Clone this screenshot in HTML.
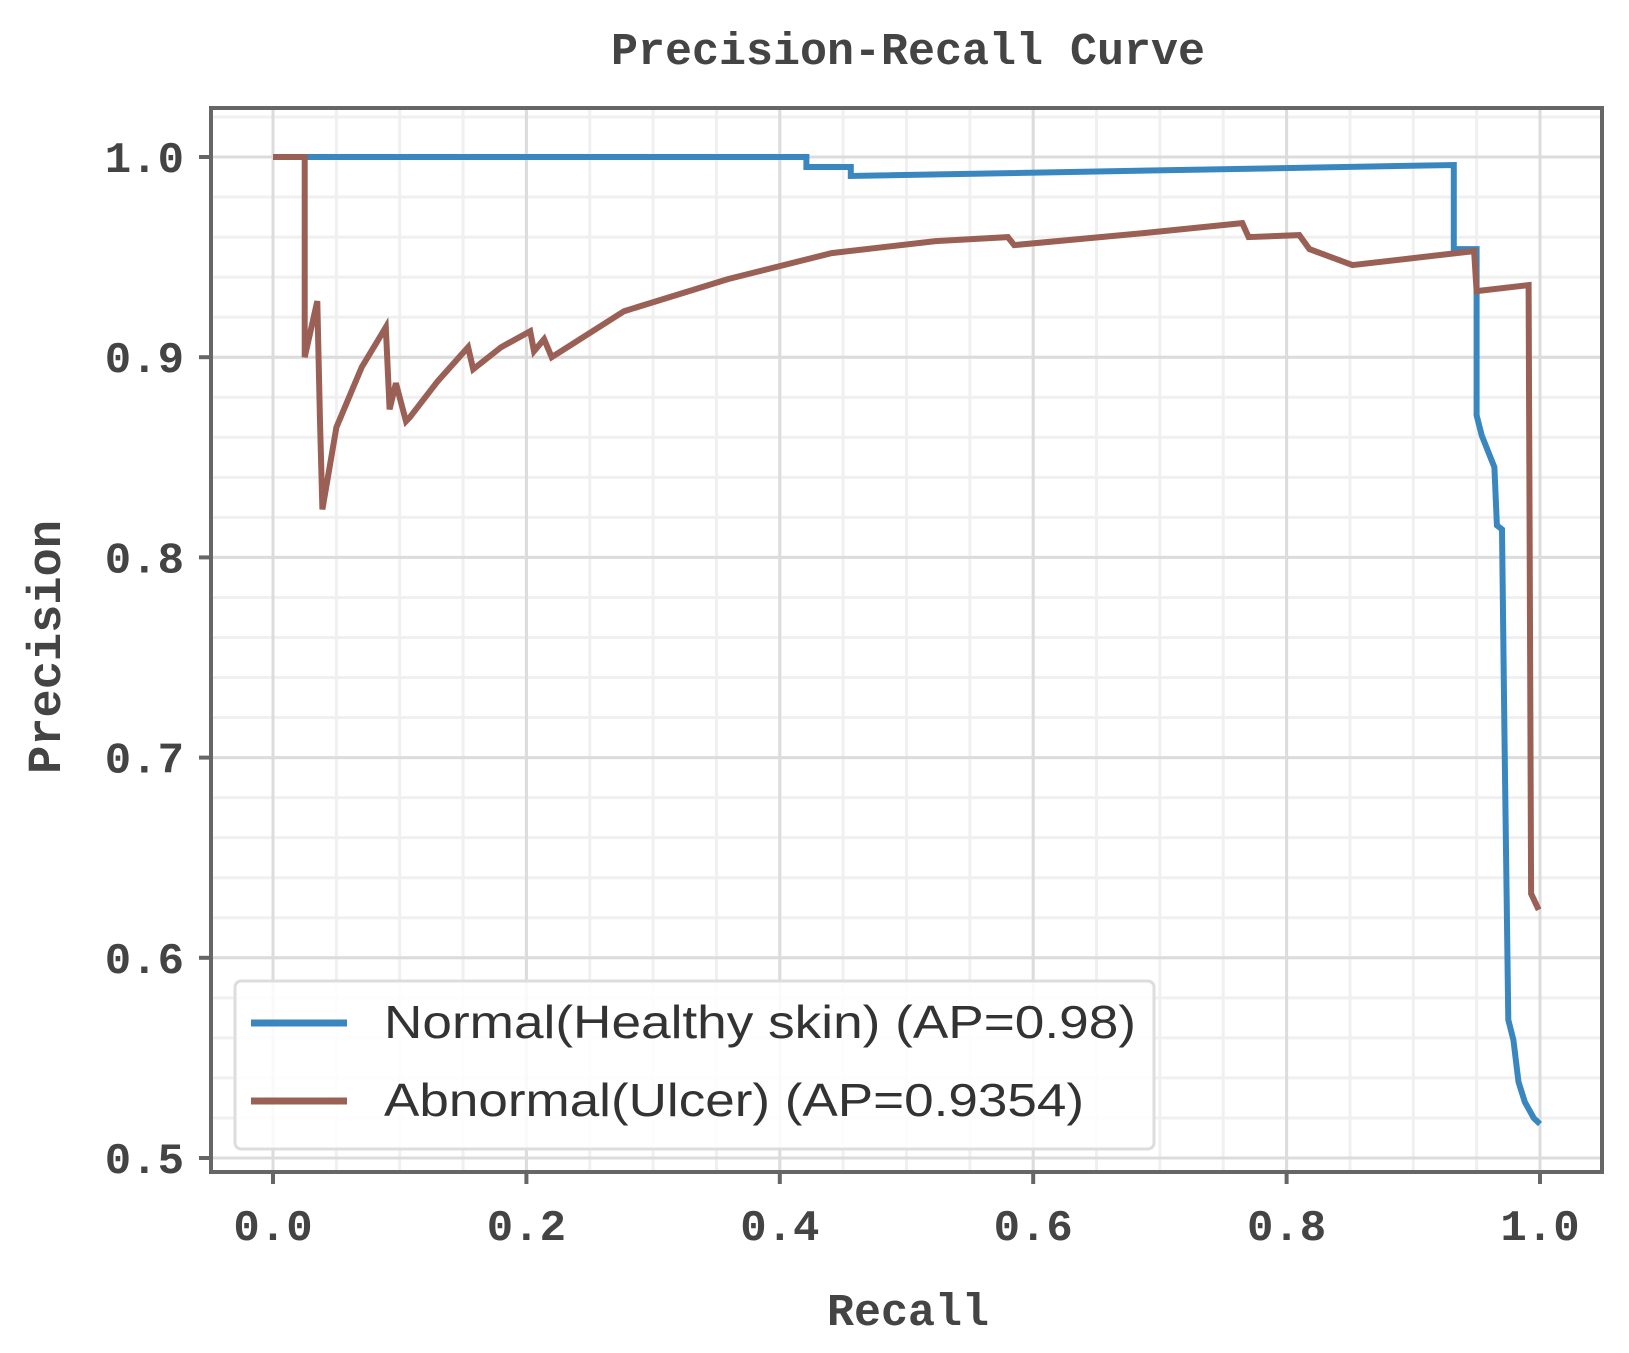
<!DOCTYPE html>
<html><head><meta charset="utf-8"><style>
html,body{margin:0;padding:0;background:#fff;}
svg{display:block;}
</style></head><body>
<svg id="chart" width="1629" height="1353" viewBox="0 0 1629 1353" xmlns="http://www.w3.org/2000/svg">
<g id="grid"></g>
<g id="series"></g>
<rect x="211" y="108" width="1391" height="1064" fill="none" stroke="#666" stroke-width="4"/>
<g id="ticks"></g>
<text x="908" y="64" text-anchor="middle" font-family="'Liberation Mono', monospace" font-weight="bold" font-size="45" fill="#444">Precision-Recall Curve</text>
<text x="908" y="1325" text-anchor="middle" font-family="'Liberation Mono', monospace" font-weight="bold" font-size="45" fill="#444">Recall</text>
<text transform="translate(60,647) rotate(-90)" text-anchor="middle" font-family="'Liberation Mono', monospace" font-weight="bold" font-size="47" fill="#444">Precision</text>
<g>
<rect x="235" y="981" width="919" height="168" rx="6" fill="#fff" fill-opacity="0.85" stroke="#ddd" stroke-width="3"/>
<line x1="251" y1="1023" x2="347" y2="1023" stroke="#3a87c0" stroke-width="7"/>
<text x="384" y="1038" font-family="'Liberation Sans', sans-serif" font-size="46" fill="#333" textLength="752" lengthAdjust="spacingAndGlyphs">Normal(Healthy skin) (AP=0.98)</text>
<line x1="251" y1="1101" x2="347" y2="1101" stroke="#9a6055" stroke-width="7"/>
<text x="384" y="1116" font-family="'Liberation Sans', sans-serif" font-size="46" fill="#333" textLength="700" lengthAdjust="spacingAndGlyphs">Abnormal(Ulcer) (AP=0.9354)</text>
</g>
</svg>
<script>
const xTickLabels = ["0.0","0.2","0.4","0.6","0.8","1.0"];
const xTickValues = [0,0.2,0.4,0.6,0.8,1.0];
const yTickLabels = ["0.5","0.6","0.7","0.8","0.9","1.0"];
const yTickValues = [0.5,0.6,0.7,0.8,0.9,1.0];
const normalRecall = [0,0.421,0.421,0.456,0.456,0.932,0.932,0.950,0.950,0.954,0.964,0.966,0.970,0.972,0.975,0.979,0.983,0.988,0.995,1.0];
const normalPrecision = [1.0,1.0,0.995,0.995,0.9905,0.996,0.954,0.954,0.871,0.861,0.845,0.816,0.814,0.71,0.569,0.559,0.538,0.528,0.52,0.517];
const abnormalRecall = [0,0.025,0.025,0.035,0.037,0.039,0.05,0.07,0.089,0.092,0.097,0.105,0.108,0.13,0.154,0.158,0.18,0.203,0.206,0.214,0.22,0.277,0.359,0.441,0.523,0.58,0.585,0.687,0.765,0.77,0.81,0.818,0.852,0.934,0.948,0.95,0.991,0.993,0.999];
const abnormalPrecision = [1.0,1.0,0.9,0.928,0.87,0.824,0.865,0.895,0.915,0.874,0.887,0.868,0.87,0.888,0.905,0.894,0.905,0.913,0.903,0.909,0.9,0.923,0.939,0.952,0.958,0.960,0.956,0.962,0.967,0.96,0.961,0.954,0.946,0.952,0.953,0.933,0.936,0.632,0.624];

const NS="http://www.w3.org/2000/svg";
const X0=273, X1=1540, Y1=157, Y05=1158;
function sx(v){return X0+(X1-X0)*v;}
function sy(v){return Y1+(1-v)*(Y05-Y1)/0.5;}
const grid=document.getElementById('grid');
const ticks=document.getElementById('ticks');
function line(parent,x1,y1,x2,y2,stroke,w){
  const l=document.createElementNS(NS,'line');
  l.setAttribute('x1',x1);l.setAttribute('y1',y1);l.setAttribute('x2',x2);l.setAttribute('y2',y2);
  l.setAttribute('stroke',stroke);l.setAttribute('stroke-width',w);
  parent.appendChild(l);return l;
}
for(let i=-1;i<=21;i++){const v=i*0.05;const x=sx(v);if(x<213||x>1600)continue;
  const l=line(grid,x,110,x,1170,'#f0f0f0',3);
  
  }
for(let i=24;i<=51;i++){const v=i*0.02;const y=sy(v);if(y<110||y>1170)continue;
  const l=line(grid,213,y,1600,y,'#f0f0f0',3);
  
  }
xTickValues.forEach((v,i)=>{
  const l=line(grid,sx(v),110,sx(v),1170,'#dcdcdc',3);
  
  
  const t=line(ticks,sx(v),1172,sx(v),1184,'#666',4);
  
  
  const tx=document.createElementNS(NS,'text');
  tx.setAttribute('x',sx(v));tx.setAttribute('y',1240);tx.setAttribute('text-anchor','middle');
  tx.setAttribute('font-family',"'Liberation Mono', monospace");tx.setAttribute('font-weight','bold');tx.setAttribute('font-size','44');tx.setAttribute('fill','#444');
  tx.textContent=xTickLabels[i];
  
  
  ticks.appendChild(tx);
});
yTickValues.forEach((v,i)=>{
  const l=line(grid,213,sy(v),1600,sy(v),'#dcdcdc',3);
  
  
  const t=line(ticks,199,sy(v),211,sy(v),'#666',4);
  
  
  const tx=document.createElementNS(NS,'text');
  tx.setAttribute('x',184);tx.setAttribute('y',sy(v)+15);tx.setAttribute('text-anchor','end');
  tx.setAttribute('font-family',"'Liberation Mono', monospace");tx.setAttribute('font-weight','bold');tx.setAttribute('font-size','44');tx.setAttribute('fill','#444');
  tx.textContent=yTickLabels[i];
  
  
  ticks.appendChild(tx);
});
const series=document.getElementById('series');
function poly(xs,ys,color,name){
  const p=document.createElementNS(NS,'polyline');
  p.setAttribute('points',xs.map((x,i)=>sx(x).toFixed(1)+','+sy(ys[i]).toFixed(1)).join(' '));
  p.setAttribute('fill','none');p.setAttribute('stroke',color);p.setAttribute('stroke-width','6');
  p.setAttribute('stroke-linejoin','miter');
  
  
  series.appendChild(p);
}
poly(normalRecall,normalPrecision,'#3a87c0','normal-pr-curve');
poly(abnormalRecall,abnormalPrecision,'#9a6055','abnormal-pr-curve');
</script>
</body></html>
